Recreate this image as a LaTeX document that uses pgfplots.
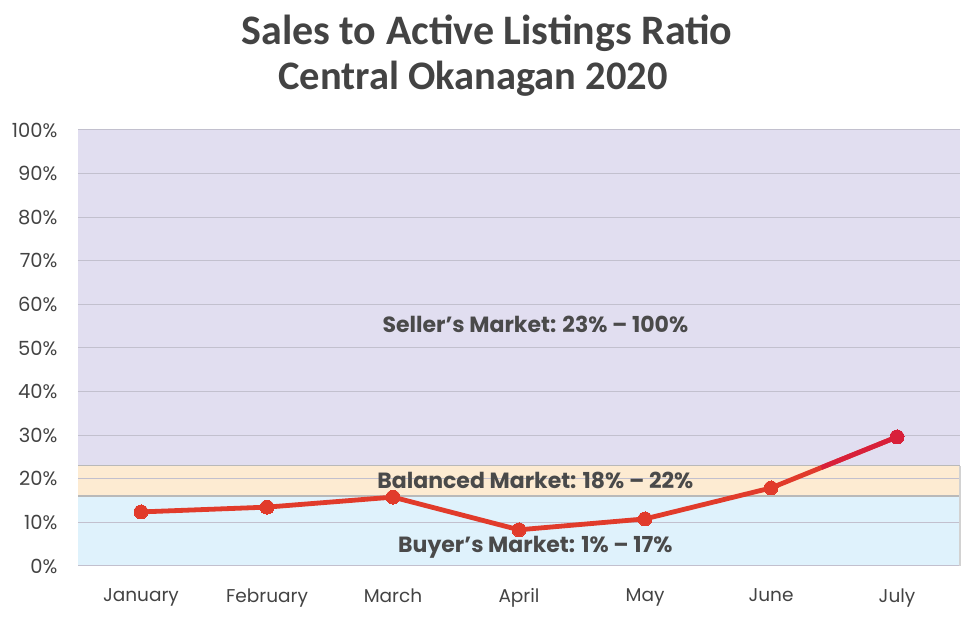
\documentclass[border=0pt]{standalone}
\usepackage{pgfplots}
\pgfplotsset{compat=1.18}
\usepackage{fontspec}
\setmainfont{Poppins}
\newfontfamily\titlefont{Carlito}
\definecolor{purp}{HTML}{E1DEF0}
\definecolor{orng}{HTML}{FDEBD2}
\definecolor{blu}{HTML}{DFF2FC}
\definecolor{gridc}{HTML}{C2C0CE}
\definecolor{txt}{HTML}{4A4A4A}
\definecolor{lred}{HTML}{E13B2B}
\definecolor{crim}{HTML}{D8203A}
\begin{document}
\begin{tikzpicture}
\begin{axis}[
  set layers,
  at={(0,0)}, anchor=south west,
  scale only axis, width=882pt, height=436pt,
  xmin=-0.5, xmax=6.5, ymin=0, ymax=100,
  xtick={0,...,6},
  xticklabels={January,February,March,April,May,June,July},
  ytick={0,10,...,100},
  yticklabel={\pgfmathprintnumber{\tick}\%},
  /pgf/number format/assume math mode=true,
  yticklabel style={xshift=-17pt, font=\fontsize{19.5}{22}\selectfont, text=txt!90!black},
  xticklabel style={yshift=-19pt, font=\fontsize{18.5}{22}\selectfont, text=txt!90!black},
  axis line style={draw=none},
  major tick length=0pt,
  ymajorgrids, grid style={gridc, line width=1pt},
  clip=false,
]
\addplot[on layer=axis background, fill=purp, draw=none] coordinates {(-0.5,23)(6.5,23)(6.5,100)(-0.5,100)} -- cycle;
\addplot[on layer=axis background, fill=orng, draw=none] coordinates {(-0.5,16)(6.5,16)(6.5,23)(-0.5,23)} -- cycle;
\addplot[on layer=axis background, fill=blu, draw=none] coordinates {(-0.5,0)(6.5,0)(6.5,16)(-0.5,16)} -- cycle;
\addplot[draw=gray!55, line width=1.5pt] coordinates {(-0.5,23)(6.5,23)};
\addplot[draw=gray!55, line width=1.5pt] coordinates {(-0.5,16)(6.5,16)};
\addplot[draw=gray!35, line width=1.2pt] coordinates {(6.5,0)(6.5,23)};
\addplot[draw=lred, line width=4.8pt, mark=*, mark size=7pt, mark options={fill=lred, draw=lred, line width=0pt}] coordinates {
(0,12.4)(1,13.5)(2,15.8)(3,8.3)(4,10.8)(5,17.9)(6,29.6)};
\addplot[draw=crim, line width=4.8pt] coordinates {(5.4,22.58)(6,29.6)};
\addplot[only marks, mark=*, mark size=7pt, mark options={fill=crim, draw=crim, line width=0pt}] coordinates {(6,29.6)};
\node[font=\bfseries\fontsize{22}{26}\selectfont, text=txt] at (axis cs:3.13,55.5) {Seller’s Market: 23\% – 100\%};
\node[font=\bfseries\fontsize{22}{26}\selectfont, text=txt] at (axis cs:3.13,19.6) {Balanced Market: 18\% – 22\%};
\node[font=\bfseries\fontsize{22}{26}\selectfont, text=txt] at (axis cs:3.13,4.2) {Buyer’s Market: 1\% – 17\%};
\end{axis}
\node[font=\titlefont\bfseries\fontsize{42}{48}\selectfont, text=txt!90!black] at (409pt,533pt) {Sales to Active Listings Ratio};
\node[font=\titlefont\bfseries\fontsize{40.5}{46}\selectfont, text=txt!90!black] at (395pt,487pt) {Central Okanagan 2020};
\path (-78pt,-51pt) rectangle (901pt,566pt);
\end{tikzpicture}
\end{document}
